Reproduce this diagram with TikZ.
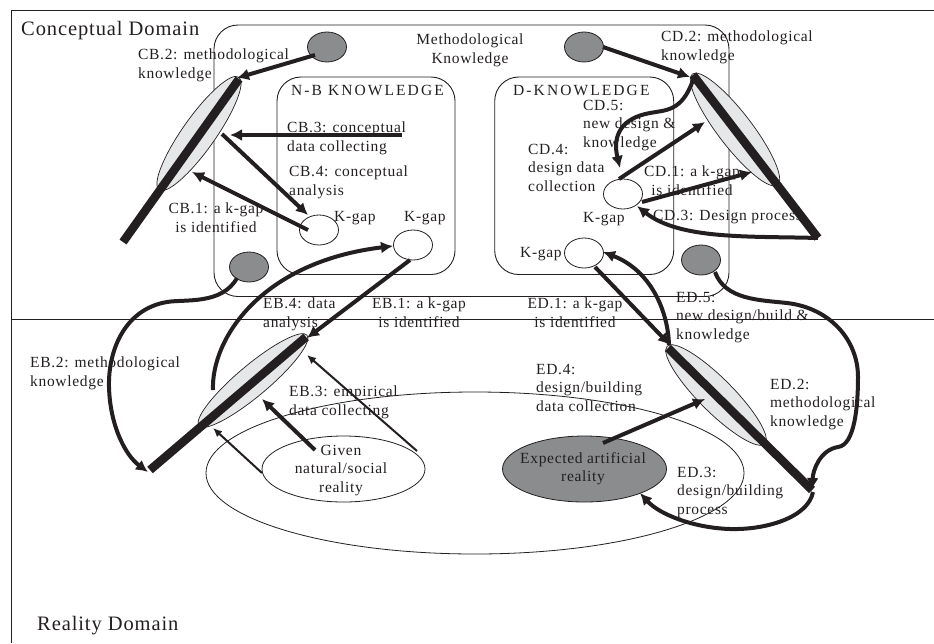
\documentclass[tikz,border=0pt]{standalone}
\usepackage{fontspec}
\setmainfont{Liberation Serif}[LetterSpace=4.4]
\usetikzlibrary{arrows.meta,shapes.geometric}
\definecolor{ink}{HTML}{231F20}
\definecolor{lensfill}{HTML}{E6E7E8}
\definecolor{darkfill}{HTML}{8A8C8E}
\tikzset{
  x=1pt,y=-1pt,
  framerule/.style={draw=ink,line width=.9pt},
  roundbox/.style={draw=ink,line width=.9pt,rounded corners=24pt},
  smalloval/.style={ellipse,draw=ink,line width=.8pt,minimum width=39pt,minimum height=30pt,inner sep=0pt},
  gapdot/.style={smalloval,fill=white},
  kdot/.style={smalloval,fill=darkfill},
  lens/.style={ellipse,draw=ink,line width=.7pt,fill=lensfill,inner sep=0pt,minimum width=140pt,minimum height=34pt},
  oval/.style={ellipse,draw=ink,line width=.8pt,inner sep=0pt},
  lbl/.style={anchor=north west,inner sep=0pt,align=left,text=ink,font=\fontsize{15.5}{18.5}\selectfont},
  clbl/.style={lbl,align=center,anchor=north},
  widelbl/.style={lbl,font=\fontsize{15.5}{18.5}\selectfont\addfontfeature{LetterSpace=13.5}},
  domainlbl/.style={anchor=base west,inner sep=0pt,text=ink,font=\fontsize{20.5}{24}\selectfont},
  beam/.style={draw=ink,line width=8.5pt},
  conn/.style={draw=ink,line width=4pt,-{Latex[length=12pt,width=12pt]}},
  thinconn/.style={draw=ink,line width=2pt,-{Latex[length=9pt,width=8pt]}},
}
\begin{document}
\begin{tikzpicture}
\useasboundingbox (0,0) rectangle (934,643);
% frame
\coordinate (frameTL) at (11.5,10);
\coordinate (frameTR) at (934,10);
\coordinate (frameBL) at (11.5,643);
\coordinate (midL) at (11.5,319);
\coordinate (midR) at (934,319);
\draw[framerule] (frameTR) -- (frameTL) -- (frameBL);
\draw[framerule] (midL) -- (midR);
% boxes
\draw[roundbox] (214,25) rectangle (729,296.5);
\draw[roundbox] (277,77) rectangle (455,274.5);
\draw[roundbox] (494.7,77) rectangle (673.7,274.5);
% big oval
\node[oval,minimum width=538pt,minimum height=162pt] (field) at (475,473) {};
% lenses
\node[lens,rotate=54.7,minimum width=138pt,minimum height=33pt] (lensCB) at (199,133.5) {};
\node[lens,rotate=-52.5,minimum width=140pt,minimum height=34pt] (lensCD) at (735,129.5) {};
\node[lens,rotate=40,minimum width=141pt,minimum height=31pt] (lensEB) at (253,380.5) {};
\node[lens,rotate=-45,minimum width=138pt,minimum height=34pt] (lensED) at (716,395) {};
% small ellipses
\node[kdot] (kTL) at (327,47) {};
\node[kdot] (kTR) at (584,47) {};
\node[kdot] (kBL) at (249,267) {};
\node[kdot] (kBR) at (701,260) {};
\node[gapdot] (gapA) at (319,230) {};
\node[gapdot] (gapB) at (413,245) {};
\node[gapdot] (gapC) at (623,194) {};
\node[gapdot] (gapD) at (584,253) {};
\node[oval,minimum width=163pt,minimum height=66pt] (given) at (343.5,469) {};
\node[oval,fill=darkfill,minimum width=164pt,minimum height=66pt] (expected) at (584.5,469) {};
% labels
\node[domainlbl] (tConceptual) at (21,35) {Conceptual Domain};
\node[domainlbl] (tReality) at (37,630) {Reality Domain};
\node[clbl] (tMeth) at (470,34) {Methodological\\Knowledge};
\node[widelbl] (tNB) at (291,85) {N-B KNOWLEDGE};
\node[widelbl] (tDK) at (513,85) {D-KNOWLEDGE};
\node[lbl] (tCB2) at (138,49) {CB.2: methodological\\knowledge};
\node[lbl] (tCB3) at (287,122) {CB.3: conceptual\\data collecting};
\node[lbl] (tCB4) at (289,166) {CB.4: conceptual\\analysis};
\node[clbl] (tCB1) at (216,203) {CB.1: a k-gap\\is identified};
\node[lbl] (tKa) at (334,211) {K-gap};
\node[lbl] (tKb) at (404,211) {K-gap};
\node[lbl] (tEB4) at (263,298) {EB.4: data\\analysis};
\node[clbl] (tEB1) at (419,298) {EB.1: a k-gap\\is identified};
\node[clbl] (tED1) at (575,298) {ED.1: a k-gap\\is identified};
\node[lbl] (tCD2) at (661,31) {CD.2: methodological\\knowledge};
\node[lbl] (tCD5) at (583,100) {CD.5:\\new design \&\\knowledge};
\node[lbl] (tCD4) at (528,144) {CD.4:\\design data\\collection};
\node[clbl] (tCD1) at (692,166) {CD.1: a k-gap\\is identified};
\node[lbl] (tKc) at (583,212) {K-gap};
\node[lbl] (tKd) at (520,247) {K-gap};
\node[lbl] (tCD3) at (653,210) {CD.3: Design process};
\node[lbl] (tED5) at (676,292) {ED.5:\\new design/build \&\\knowledge};
\node[lbl] (tEB2) at (30,357) {EB.2: methodological\\knowledge};
\node[lbl] (tEB3) at (289,386) {EB.3: empirical\\data collecting};
\node[lbl] (tED4) at (536,364) {ED.4:\\design/building\\data collection};
\node[lbl] (tED2) at (770,379) {ED.2:\\methodological\\knowledge};
\node[lbl] (tED3) at (677,467) {ED.3:\\design/building\\process};
\node[clbl] (tGiven) at (341,445) {Given\\natural/social\\reality};
\node[clbl] (tExpected) at (583,452) {Expected artificial\\reality};
% anchor points
\coordinate (cbA) at (239,79); \coordinate (cbB) at (123,242);
\coordinate (cdA) at (693,75); \coordinate (cdB) at (818,238);
\coordinate (ebA) at (306,337); \coordinate (ebB) at (150,470);
\coordinate (edA) at (668,348); \coordinate (edB) at (812,490);
\draw[beam] (cbA) -- (cbB);
\draw[beam] (cdA) -- (cdB);
\draw[beam] (ebA) -- (ebB);
\draw[beam] (edA) -- (edB);
% conceptual-business arrows
\coordinate (p1) at (315,55); \coordinate (p2) at (237,78);
\draw[conn] (p1) -- (p2);
\coordinate (p3) at (402,135); \coordinate (p4) at (230,135);
\draw[conn] (p3) -- (p4);
\coordinate (p5) at (222,134); \coordinate (p6) at (308,215);
\draw[conn] (p5) -- (p6);
\coordinate (p7) at (308,230); \coordinate (p8) at (192,172);
\draw[conn] (p7) -- (p8);
\coordinate (p9) at (213,390); \coordinate (p10) at (393,246);
\draw[conn] (p9) .. controls (211,340) and (260,262) .. (p10);
\coordinate (p11) at (410,260); \coordinate (p12) at (307,338);
\draw[conn] (p11) -- (p12);
\coordinate (p13) at (237,278); \coordinate (p14) at (148,472);
\draw[conn] (p13) .. controls (222,305) and (185,299) .. (167,302) .. controls (125,309) and (108,350) .. (109,387) .. controls (110,425) and (125,455) .. (p14);
% conceptual-design arrows
\coordinate (q1) at (603,47); \coordinate (q2) at (690,77);
\draw[conn] (q1) -- (q2);
\coordinate (q3) at (693,80); \coordinate (q4) at (620,168);
\draw[conn] (q3) .. controls (682,112) and (665,110) .. (650,113) .. controls (622,118) and (612,135) .. (q4);
\coordinate (q5) at (619,179); \coordinate (q6) at (705,122);
\draw[conn] (q5) -- (q6);
\coordinate (q7) at (642,202); \coordinate (q8) at (752,172);
\draw[conn] (q7) -- (q8);
\coordinate (q9) at (818,238); \coordinate (q10) at (637,206);
\draw[conn] (q9) .. controls (750,236) and (680,240) .. (q10);
% empirical arrows
\coordinate (r1) at (315,450); \coordinate (r2) at (262,399);
\draw[conn] (r1) -- (r2);
\coordinate (r3) at (262,473); \coordinate (r4) at (213,428);
\draw[thinconn] (r3) -- (r4);
\coordinate (r5) at (417,451); \coordinate (r6) at (307,355);
\draw[thinconn] (r5) -- (r6);
% design-reality arrows
\coordinate (s1) at (595,267); \coordinate (s2) at (670,345);
\draw[conn] (s1) -- (s2);
\coordinate (s3) at (669,345); \coordinate (s4) at (603,252);
\draw[conn] (s3) .. controls (668,310) and (650,270) .. (s4);
\coordinate (s5) at (715,272); \coordinate (s6) at (812,490);
\draw[conn] (s5) .. controls (725,300) and (760,300) .. (787,303) .. controls (830,308) and (858,340) .. (858,377) .. controls (858,405) and (855,445) .. (838,447) .. controls (820,450) and (813,470) .. (s6);
\coordinate (s7) at (813,492); \coordinate (s8) at (640,493);
\draw[conn] (s7) .. controls (808,518) and (765,530) .. (730,529) .. controls (695,528) and (660,515) .. (s8);
\coordinate (s9) at (603,443); \coordinate (s10) at (705,399);
\draw[conn] (s9) -- (s10);
\end{tikzpicture}
\end{document}
